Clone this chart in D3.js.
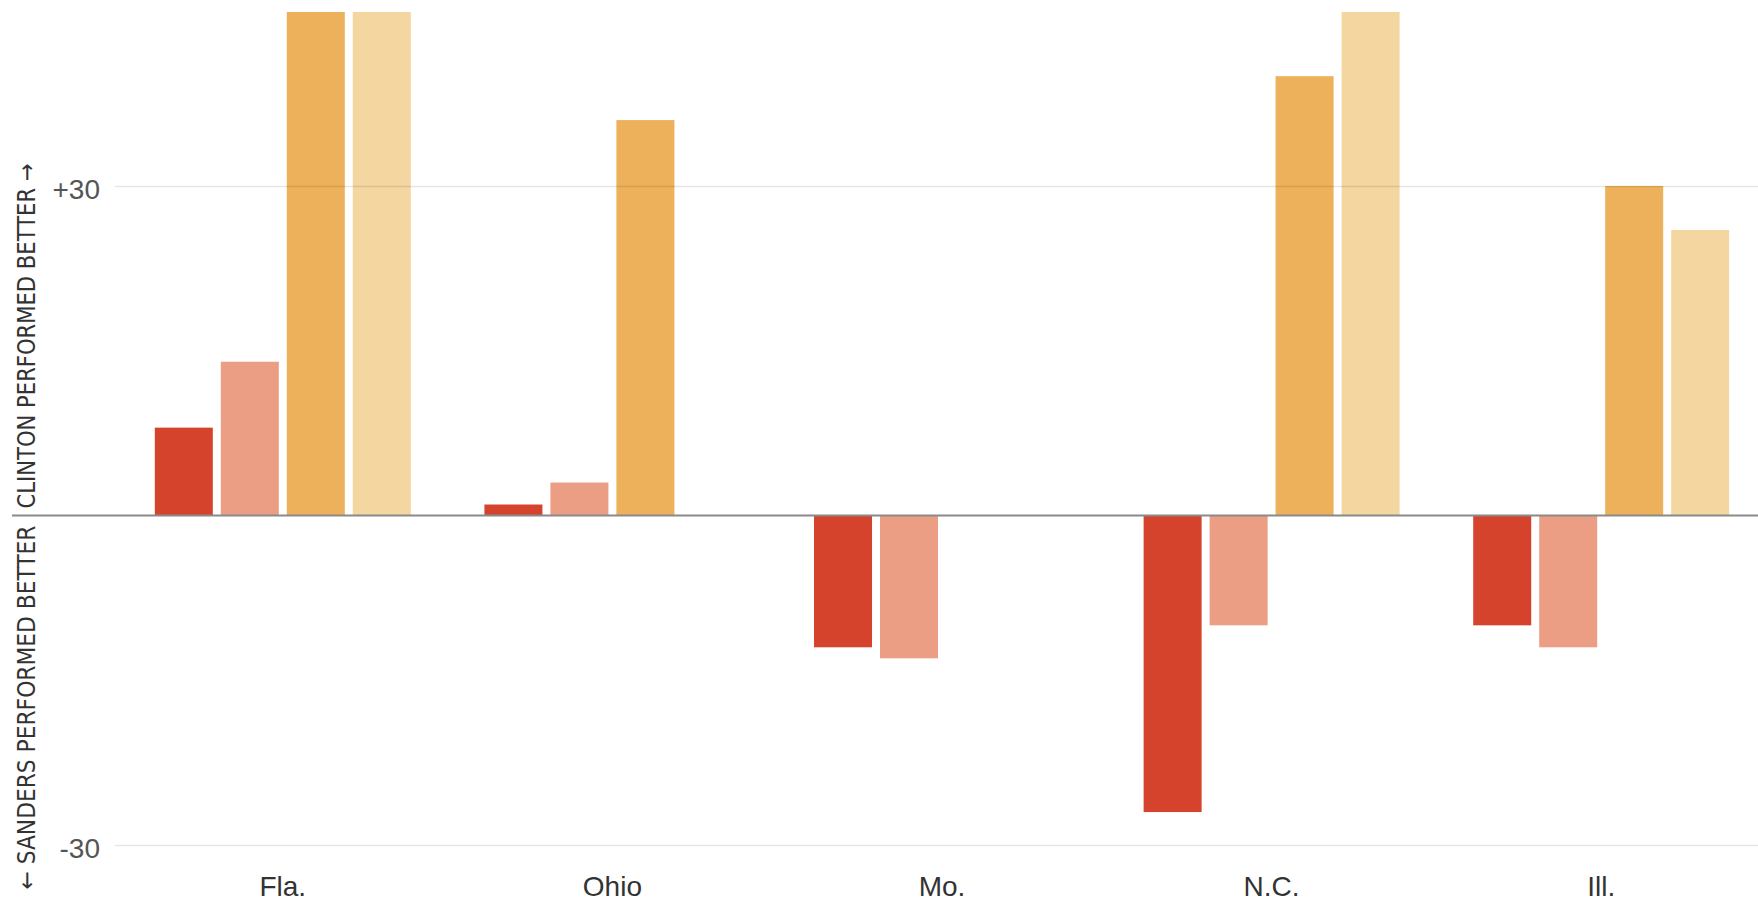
<!DOCTYPE html>
<html>
<head>
<meta charset="utf-8">
<script src="https://cdnjs.cloudflare.com/ajax/libs/d3/7.8.5/d3.min.js"></script>
<style>
  body { margin: 0; background: #fff; }
  svg { display: block; }
</style>
</head>
<body>
<div id="chart"></div>
<script>
// states and the four bar series (margin in points, + = Clinton did better)
const states = ["Fla.", "Ohio", "Mo.", "N.C.", "Ill."];
const seriesKeys = ["s1", "s2", "s3", "s4"];
const s1 = [8, 1, -12, -27, -10];
const s2 = [14, 3, -13, -10, -12];
const s3 = [58, 36, null, 40, 30];
const s4 = [55, null, null, 49, 26];
const tickValues = [-30, 30];

const colors = d3.scaleOrdinal()
  .domain(seriesKeys)
  .range(["#d5432c", "#ec9e84", "#ecb15a", "#f3d6a0"]);

const W = 1758, H = 901;

const data = states.map((s, i) => ({
  state: s,
  values: [s1[i], s2[i], s3[i], s4[i]]
}));

const svg = d3.select("#chart")
  .append("svg")
    .attr("width", W)
    .attr("height", H);

// group scale + sub scale inside each group
const x0 = d3.scaleBand()
  .domain(states)
  .range([118, 1766])
  .paddingInner(0.2234)
  .paddingOuter(0.1117);

const x1 = d3.scaleBand()
  .domain(seriesKeys)
  .range([0, x0.bandwidth()])
  .paddingInner(0.121);

const y = d3.scaleLinear()
  .domain([-30, 30])
  .range([845, 186]);

svg.append("clipPath")
    .attr("id", "plotclip")
  .append("rect")
    .attr("x", 0)
    .attr("y", 12)
    .attr("width", W)
    .attr("height", H - 12);

// bars
const groups = svg.append("g")
    .attr("clip-path", "url(#plotclip)")
  .selectAll("g")
  .data(data)
  .join("g")
    .attr("transform", d => `translate(${x0(d.state)},0)`);

groups.selectAll("rect")
  .data(d => d.values.map((v, i) => ({ key: seriesKeys[i], v: v })).filter(e => e.v !== null))
  .join("rect")
    .attr("x", d => x1(d.key))
    .attr("width", x1.bandwidth())
    .attr("y", d => y(Math.max(0, d.v)))
    .attr("height", d => Math.abs(y(d.v) - y(0)))
    .style("fill", d => colors(d.key));

// gridlines and tick labels
const yAxis = svg.append("g")
  .attr("transform", "translate(115,0)")
  .call(d3.axisLeft(y)
    .tickValues(tickValues)
    .tickSizeInner(-(W - 115))
    .tickSizeOuter(0)
    .tickPadding(15)
    .tickFormat(d => d > 0 ? "+" + d : d));

yAxis.select(".domain").remove();
yAxis.selectAll(".tick line")
  .attr("stroke", "#000")
  .attr("stroke-opacity", 0.1)
  .attr("stroke-width", 1.5);
yAxis.selectAll(".tick text")
  .attr("dy", "0.45em")
  .style("font-family", "'Liberation Sans', Arial, sans-serif")
  .style("font-size", "28px")
  .style("fill", "#555");

// zero line
svg.append("line")
  .attr("x1", 12)
  .attr("x2", W)
  .attr("y1", y(0))
  .attr("y2", y(0))
  .attr("stroke", "#8a8a8a")
  .attr("stroke-width", 2);

// state labels
svg.append("g")
  .selectAll("text")
  .data(states)
  .join("text")
    .attr("x", d => x0(d) + x0.bandwidth() / 2)
    .attr("y", 896)
    .attr("text-anchor", "middle")
    .style("font-family", "'Liberation Sans', Arial, sans-serif")
    .style("font-size", "28px")
    .style("fill", "#333")
    .text(d => d);

// axis titles (rotated)
const titleFont = "'Liberation Sans Narrow', 'DejaVu Sans Condensed', sans-serif";

svg.append("text")
  .attr("transform", `translate(35,${y(0) - 7}) rotate(-90)`)
  .attr("text-anchor", "start")
  .attr("textLength", 345)
  .attr("lengthAdjust", "spacingAndGlyphs")
  .style("font-family", titleFont)
  .style("font-size", "24px")
  .style("fill", "#333")
  .text("CLINTON PERFORMED BETTER →");

svg.append("text")
  .attr("transform", `translate(35,${y(0) + 10}) rotate(-90)`)
  .attr("text-anchor", "end")
  .attr("textLength", 364)
  .attr("lengthAdjust", "spacingAndGlyphs")
  .style("font-family", titleFont)
  .style("font-size", "24px")
  .style("fill", "#333")
  .text("← SANDERS PERFORMED BETTER");
</script>
</body>
</html>
